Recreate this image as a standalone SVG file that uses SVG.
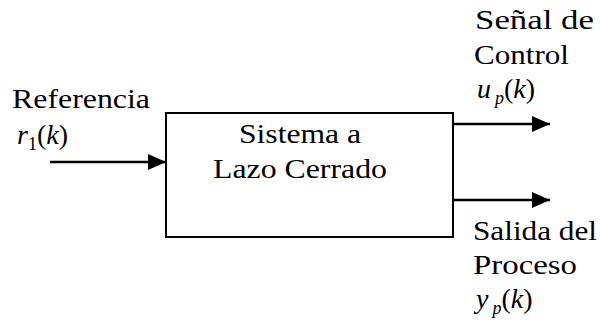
<svg xmlns="http://www.w3.org/2000/svg" width="601" height="331" viewBox="0 0 601 331" font-family="Times New Roman, Liberation Serif, serif">
<defs>
<marker id="ah" markerWidth="18" markerHeight="16" refX="18" refY="8" orient="auto" markerUnits="userSpaceOnUse">
<path d="M0,0 L18,8 L0,16 Z" fill="#000"/>
</marker>
</defs>
<rect width="601" height="331" fill="#fff"/>
<g id="box">
<rect x="166" y="113" width="287" height="124" fill="#fff" stroke="#000" stroke-width="2"/>
<text x="239" y="143" font-family="Times New Roman, Liberation Serif, serif" font-size="28" textLength="122" lengthAdjust="spacingAndGlyphs">Sistema a</text>
<text x="213" y="178" font-family="Times New Roman, Liberation Serif, serif" font-size="28" textLength="174" lengthAdjust="spacingAndGlyphs">Lazo Cerrado</text>
</g>
<g id="input">
<text x="12" y="108" font-family="Times New Roman, Liberation Serif, serif" font-size="28" textLength="138" lengthAdjust="spacingAndGlyphs">Referencia</text>
<text x="17" y="144" font-family="Times New Roman, Liberation Serif, serif" font-size="28"><tspan font-style="italic">r</tspan><tspan font-size="18" dy="6">1</tspan><tspan dy="-6">(</tspan><tspan font-style="italic">k</tspan><tspan>)</tspan></text>
</g>
<g id="output1">
<text x="475" y="29" font-family="Times New Roman, Liberation Serif, serif" font-size="28" textLength="119" lengthAdjust="spacingAndGlyphs">Se&#241;al  de</text>
<text x="474" y="64" font-family="Times New Roman, Liberation Serif, serif" font-size="28" textLength="95" lengthAdjust="spacingAndGlyphs">Control</text>
<text x="477" y="98" font-family="Times New Roman, Liberation Serif, serif" font-size="28"><tspan font-style="italic">u</tspan><tspan font-size="18" font-style="italic" dx="4" dy="6">p</tspan><tspan dy="-6">(</tspan><tspan font-style="italic">k</tspan><tspan>)</tspan></text>
</g>
<g id="output2">
<text x="473" y="240" font-family="Times New Roman, Liberation Serif, serif" font-size="28" textLength="124" lengthAdjust="spacingAndGlyphs">Salida del</text>
<text x="473" y="274" font-family="Times New Roman, Liberation Serif, serif" font-size="28" textLength="104" lengthAdjust="spacingAndGlyphs">Proceso</text>
<text x="476" y="308" font-family="Times New Roman, Liberation Serif, serif" font-size="28"><tspan font-style="italic">y</tspan><tspan font-size="18" font-style="italic" dx="4" dy="6">p</tspan><tspan dy="-6">(</tspan><tspan font-style="italic">k</tspan><tspan>)</tspan></text>
</g>
<g id="connectors" stroke="#000" stroke-width="2.5" fill="none">
<line x1="50" y1="162" x2="166" y2="162" marker-end="url(#ah)"/>
<line x1="453" y1="124" x2="550" y2="124" marker-end="url(#ah)"/>
<line x1="453" y1="200" x2="550" y2="200" marker-end="url(#ah)"/>
</g>
</svg>
